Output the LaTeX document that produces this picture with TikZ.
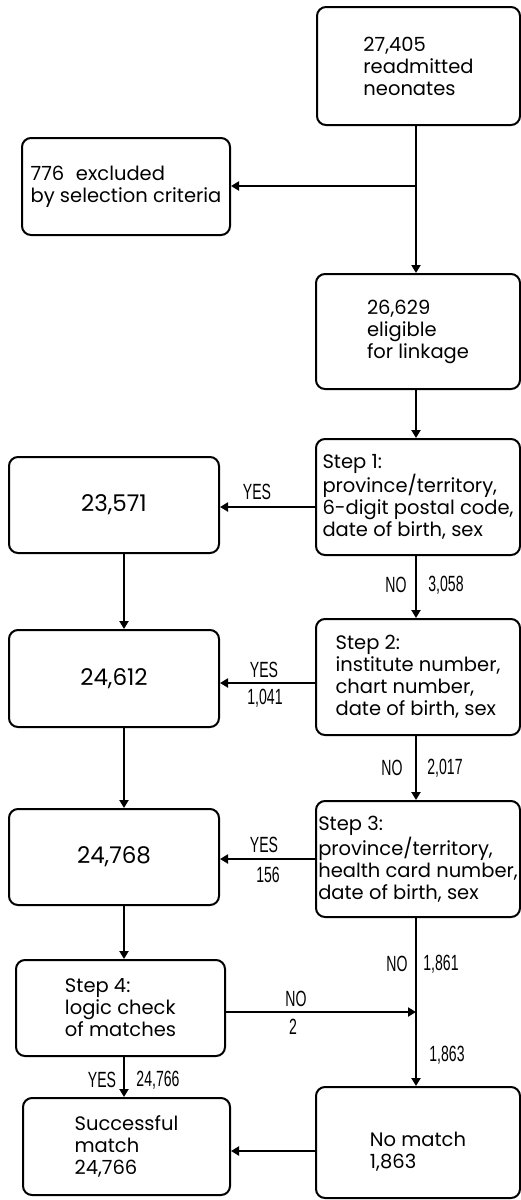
\documentclass[tikz,border=0pt]{standalone}
\usepackage{fontspec}
\setmainfont{Poppins}
\newfontfamily\condfont[FakeStretch=0.64]{Liberation Sans}
\usetikzlibrary{arrows.meta,calc}
\begin{document}
\begin{tikzpicture}[x=1pt,y=-1pt,
  box/.style={draw, line width=2pt, rounded corners=9pt, align=left, inner sep=0pt,
    font=\fontsize{19.5}{22}\selectfont},
  boxtext/.style={align=left, inner sep=0pt, font=\fontsize{19.5}{22}\selectfont},
  big/.style={font=\fontsize{23}{26}\selectfont},
  lab/.style={font=\condfont\fontsize{22}{24}\selectfont, inner sep=0pt},
  arr/.style={line width=2pt, -{Triangle[length=8pt,width=9pt]}}]
\useasboundingbox (0,0) rectangle (521,1200);
\coordinate (colR) at (416,0);
\coordinate (colL) at (124,0);
% boxes
\node[box, minimum width=203pt, minimum height=118pt] (A) at (418.5,66) {27,405\\readmitted\\neonates};
\node[box, minimum width=208pt, minimum height=97pt] (ex) at (126,186.5) {776\hspace{0.6em}excluded\\by selection criteria};
\node[box, minimum width=204pt, minimum height=115pt] (B) at (418,331.5) {26,629\\eligible\\for linkage};
\node[box, minimum width=204pt, minimum height=116pt] (S1) at (418,497) {Step 1:\\province/territory,\\6-digit postal code,\\date of birth, sex};
\node[box, big, minimum width=210pt, minimum height=96pt] (R1) at (114,505) {23,571};
\node[box, minimum width=204pt, minimum height=116pt] (S2) at (418,677) {Step 2:\\institute number,\\chart number,\\date of birth, sex};
\node[box, big, minimum width=210pt, minimum height=97pt] (R2) at (114,678.5) {24,612};
\node[box, minimum width=204pt, minimum height=116pt] (S3) at (418,859) {Step 3:\\province/territory,\\health card number,\\date of birth, sex};
\node[box, big, minimum width=210pt, minimum height=96pt] (R3) at (114,857) {24,768};
\node[box, minimum width=209pt, minimum height=96pt] (S4) at (120.5,1008) {Step 4:\\logic check\\of matches};
\node[box, minimum width=207pt, minimum height=97pt] (Su) at (126.5,1146.5) {Successful\\match\\24,766};
\node[box, minimum width=204pt, minimum height=111pt] (NM) at (418,1142.5) {};
\node[boxtext] (NMt) at ([yshift=-9pt]NM.center) {No match\\1,863};
% junctions
\coordinate (j1) at (416,186);
\coordinate (j2) at (416,1012);
\coordinate (y1) at (0,507);
\coordinate (y2) at (0,683);
\coordinate (y5) at (0,1151);
% connectors
\draw[arr] (A.south -| colR) -- (B.north -| colR);
\draw[arr] (j1) -- (ex.east |- j1);
\draw[arr] (B.south -| colR) -- (S1.north -| colR);
\draw[arr] (S1.west |- y1) -- (R1.east |- y1);
\draw[arr] (S1.south -| colR) -- (S2.north -| colR);
\draw[arr] (S2.west |- y2) -- (R2.east |- y2);
\draw[arr] (S2.south -| colR) -- (S3.north -| colR);
\draw[arr] (S3.west) -- (R3.east |- S3.west);
\draw[arr] (R1.south -| colL) -- (R2.north -| colL);
\draw[arr] (R2.south -| colL) -- (R3.north -| colL);
\draw[arr] (R3.south -| colL) -- (S4.north -| colL);
\draw[arr] (S4.south -| colL) -- (Su.north -| colL);
\draw[arr] (S3.south -| colR) -- (NM.north -| colR);
\draw[arr] (S4.east |- j2) -- (j2);
\draw[arr] (NM.west |- y5) -- (Su.east |- y5);
% labels
\node[lab] (l1) at (257,492) {YES};
\node[lab] (l2) at (264,670) {YES};
\node[lab] (l3) at (265,698) {1,041};
\node[lab] (l4) at (396,585) {NO};
\node[lab] (l5) at (446,585) {3,058};
\node[lab] (l6) at (392,768) {NO};
\node[lab] (l7) at (445,768) {2,017};
\node[lab] (l8) at (264,845) {YES};
\node[lab] (l9) at (268,875) {156};
\node[lab] (l10) at (397,964) {NO};
\node[lab] (l11) at (441,964) {1,861};
\node[lab] (l12) at (296,999) {NO};
\node[lab] (l13) at (293,1027) {2};
\node[lab] (l14) at (447,1055) {1,863};
\node[lab] (l15) at (102,1080) {YES};
\node[lab] (l16) at (158,1080) {24,766};
\end{tikzpicture}
\end{document}
